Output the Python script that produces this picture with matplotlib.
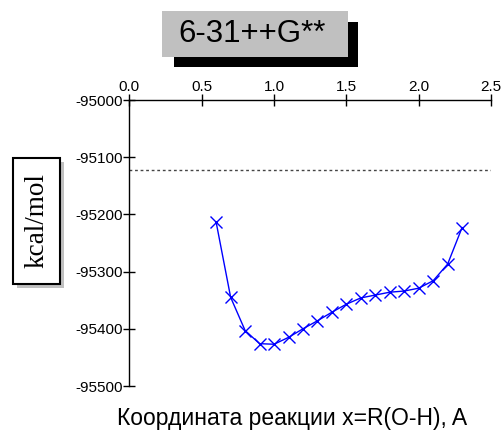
import matplotlib
matplotlib.use("Agg")
import matplotlib.pyplot as plt
from matplotlib.patches import Rectangle

# Data
x_vals = [0.6, 0.7, 0.8, 0.9, 1.0, 1.1, 1.2, 1.3, 1.4, 1.5, 1.6, 1.7, 1.8, 1.9, 2.0, 2.1, 2.2, 2.3]
energy = [-95214, -95345, -95403, -95426, -95427, -95415, -95400, -95386, -95371,
          -95357, -95346, -95341, -95336, -95334, -95329, -95316, -95287, -95223]
ref_level = -95122
x_ticks = [0.0, 0.5, 1.0, 1.5, 2.0, 2.5]
y_ticks = [-95000, -95100, -95200, -95300, -95400, -95500]
title_text = "6-31++G**"
ylabel_text = "kcal/mol"
xlabel_text = "Координата реакции x=R(O-H), A"

W, H = 503, 434
fig = plt.figure(figsize=(W / 100, H / 100), dpi=100)
plt.rcParams['font.family'] = ['Liberation Sans', 'DejaVu Sans']

def fx(px):
    return px / W

def fy(py):
    return 1 - py / H

ax_l, ax_r, ax_t, ax_b = 129.4, 491.0, 100.0, 386.0
ax = fig.add_axes([fx(ax_l), fy(ax_b), fx(ax_r) - fx(ax_l), fy(ax_t) - fy(ax_b)])
ax.set_xlim(0, 2.5)
ax.set_ylim(-95500, -95000)

ax.plot(x_vals, energy, color='#0000ff', linewidth=1.0, marker='x',
        markersize=8.5, markeredgewidth=1.0, clip_on=False)
ax.axhline(ref_level, color='#444444', linewidth=1.0, linestyle=(0, (2, 2)))

for s in ['bottom', 'right']:
    ax.spines[s].set_visible(False)
for s in ['left', 'top']:
    ax.spines[s].set_linewidth(1.0)

ax.xaxis.tick_top()
ax.set_xticks(x_ticks)
ax.set_xticklabels([f"{v:.1f}" for v in x_ticks])
ax.set_yticks(y_ticks)
ax.set_yticklabels([str(v) for v in y_ticks])
ax.tick_params(axis='both', direction='inout', length=9, width=1.0, labelsize=11)
ax.tick_params(axis='x', pad=0)
ax.tick_params(axis='y', pad=0)

# Title box with shadow
fig.patches.append(Rectangle((fx(174), fy(66.7)), fx(358.3) - fx(174), fy(22.3) - fy(66.7),
                             transform=fig.transFigure, facecolor='black', edgecolor='none'))
fig.patches.append(Rectangle((fx(162.3), fy(56.7)), fx(348.3) - fx(162.3), fy(11) - fy(56.7),
                             transform=fig.transFigure, facecolor='#c0c0c0', edgecolor='none'))
fig.text(fx(252.5), fy(34), title_text, ha='center', va='center', fontsize=22.5,
         color='black')

# Y label box with shadow
fig.patches.append(Rectangle((fx(17), fy(288)), fx(64) - fx(17), fy(162) - fy(288),
                             transform=fig.transFigure, facecolor='#c0c0c0', edgecolor='none'))
fig.patches.append(Rectangle((fx(13), fy(284)), fx(60) - fx(13), fy(158) - fy(284),
                             transform=fig.transFigure, facecolor='white', edgecolor='black',
                             linewidth=1.5))
fig.text(fx(36.5), fy(221), ylabel_text, ha='center', va='center', rotation=90,
         fontsize=19.5, family=['Liberation Serif', 'DejaVu Serif'])

# X label
fig.text(fx(292), fy(418), xlabel_text, ha='center', va='center', fontsize=16.5)

fig.savefig("out.png", dpi=100)
